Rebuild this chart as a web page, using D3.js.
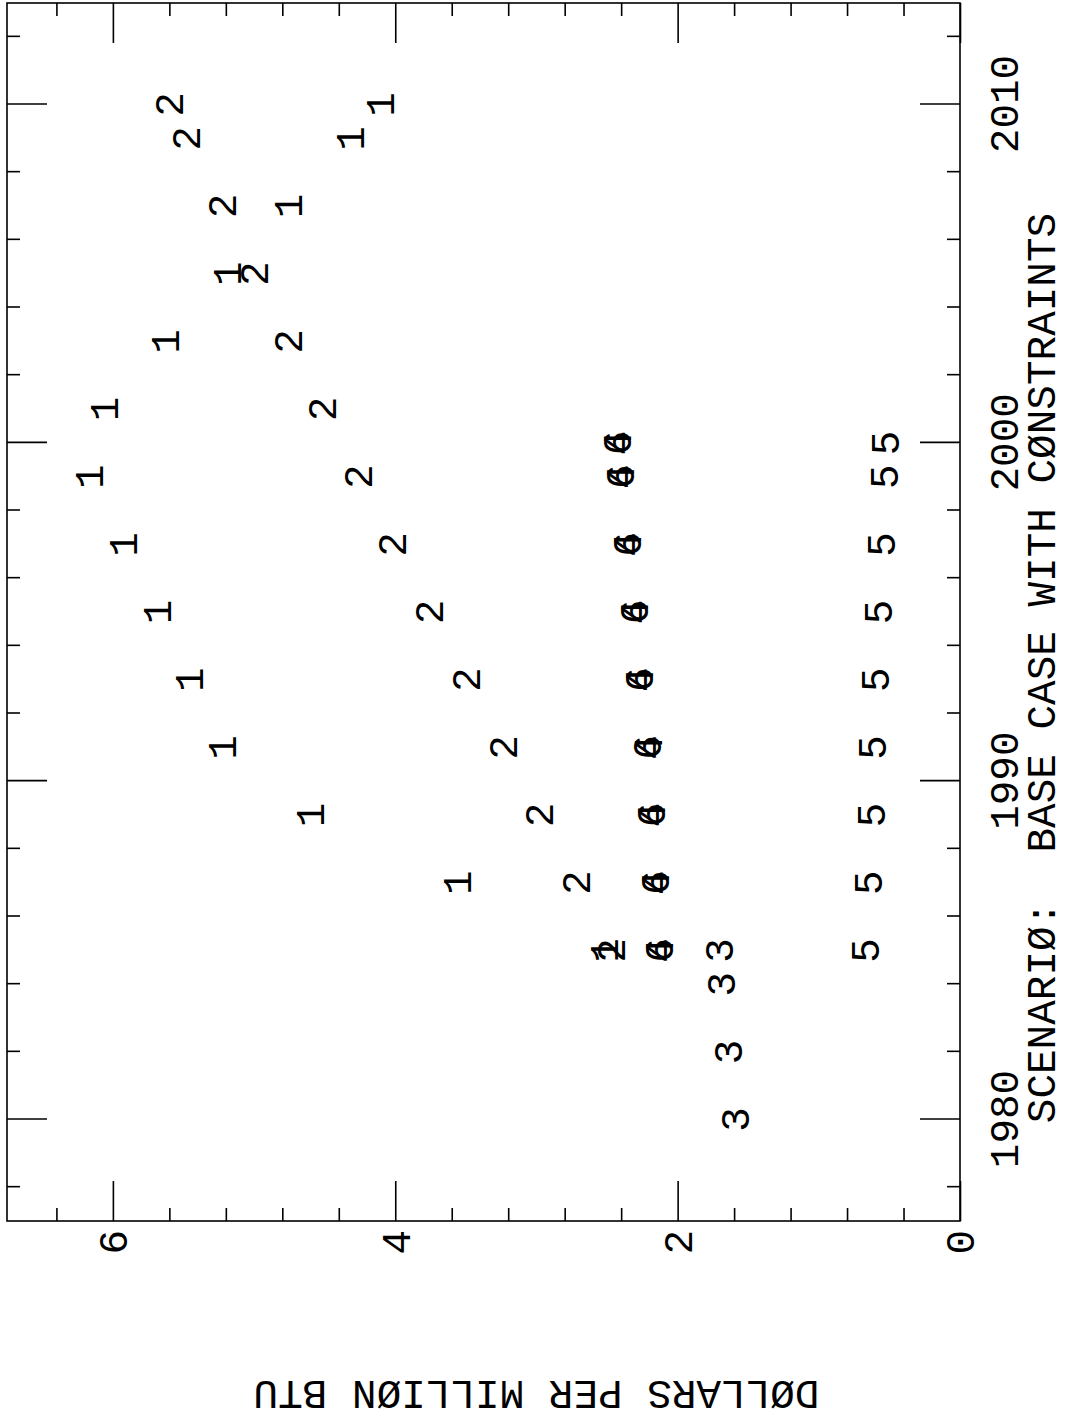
<!DOCTYPE html>
<html>
<head>
<meta charset="utf-8">
<script src="https://cdn.jsdelivr.net/npm/d3@7"></script>
<style>
  html, body { margin: 0; padding: 0; background: #ffffff; }
  svg text { font-family: "Liberation Mono", "DejaVu Sans Mono", monospace; fill: #000; }
</style>
</head>
<body>
<svg id="chart" width="1068" height="1423"></svg>
<script>
// ---- data -------------------------------------------------------------
const yearsHistory = [1980, 1982, 1984, 1985];
const yearsLong    = [1985, 1987, 1989, 1991, 1993, 1995, 1997, 1999, 2001, 2003, 2005, 2007, 2009, 2010];
const yearsShort   = [1985, 1987, 1989, 1991, 1993, 1995, 1997, 1999, 2000];

const series1 = [2.52, 3.56, 4.60, 5.23, 5.46, 5.69, 5.93, 6.17, 6.06, 5.63, 5.19, 4.76, 4.32, 4.11];
const series2 = [2.47, 2.72, 2.98, 3.24, 3.50, 3.76, 4.02, 4.26, 4.52, 4.76, 5.00, 5.23, 5.48, 5.60];
const series3 = [1.59, 1.64, 1.69, 1.71];
const series4 = [2.13, 2.16, 2.19, 2.21, 2.27, 2.31, 2.36, 2.41, 2.43];
const series5 = [0.67, 0.65, 0.63, 0.62, 0.60, 0.58, 0.56, 0.54, 0.53];
const series6 = [2.13, 2.16, 2.19, 2.22, 2.27, 2.31, 2.36, 2.41, 2.43];

const seriesSymbols = ["1", "2", "3", "4", "5", "6"];

const yearMajorTicks  = [1980, 1990, 2000, 2010];
const yearTickLabels  = ["1980", "1990", "2000", "2010"];
const yearMinorTicks  = [1978, 1982, 1984, 1986, 1988, 1992, 1994, 1996, 1998, 2002, 2004, 2006, 2008, 2012];
const priceMajorTicks = [0, 2, 4, 6];
const priceTickLabels = ["0", "2", "4", "6"];
const priceMinorTicks = [0.4, 0.8, 1.2, 1.6, 2.4, 2.8, 3.2, 3.6, 4.4, 4.8, 5.2, 5.6, 6.4];

const subtitleText  = "SCENARIØ:  BASE CASE WITH CØNSTRAINTS";
const priceAxisText = "DØLLARS PER MILLIØN BTU";

// ---- layout -----------------------------------------------------------
// The plot is laid out as an ordinary year/price chart and the whole
// group is then turned a quarter turn counter-clockwise on the page.
const frame = { left: 7, top: 3, right: 960, bottom: 1221 };
const W = frame.bottom - frame.top;   // length of the year axis
const H = frame.right - frame.left;   // length of the price axis
const FONT = 41;
const MAJOR = 40, MINOR = 13, LW = 1.6;

const svg = d3.select("#chart");
svg.append("rect").attr("width", 1068).attr("height", 1423).attr("fill", "#fff");

const g = svg.append("g")
  .attr("transform", `translate(${frame.left},${frame.bottom}) rotate(-90)`);

const x = d3.scaleLinear().domain([1977, 2013]).range([0, W]);
const y = d3.scaleLinear().domain([0, 6.75]).range([H, 0]);

function tidy(sel) {
  sel.attr("font-family", null).attr("font-size", null);
  sel.select(".domain").remove();
  sel.selectAll(".tick line").attr("stroke", "#000").attr("stroke-width", LW);
}

// year axis along the bottom edge (with labels) and the top edge
g.append("g").attr("transform", `translate(0,${H})`)
  .call(d3.axisBottom(x).tickValues(yearMajorTicks).tickSize(-MAJOR)
        .tickFormat((d, i) => yearTickLabels[i]))
  .call(tidy)
  .call(s => s.selectAll("text")
      .attr("y", 44).attr("dy", "0.34em").style("font-size", FONT + "px"));
g.append("g").attr("transform", `translate(0,${H})`)
  .call(d3.axisBottom(x).tickValues(yearMinorTicks).tickSize(-MINOR).tickFormat(""))
  .call(tidy);
g.append("g")
  .call(d3.axisTop(x).tickValues(yearMajorTicks).tickSize(-MAJOR).tickFormat(""))
  .call(tidy);
g.append("g")
  .call(d3.axisTop(x).tickValues(yearMinorTicks).tickSize(-MINOR).tickFormat(""))
  .call(tidy);

// price axis along the left edge (with labels) and the right edge
g.append("g")
  .call(d3.axisLeft(y).tickValues(priceMajorTicks).tickSize(-MAJOR)
        .tickFormat((d, i) => priceTickLabels[i]))
  .call(tidy)
  .call(s => s.selectAll("text")
      .attr("x", -9).attr("dy", "0.34em").style("font-size", FONT + "px"));
g.append("g")
  .call(d3.axisLeft(y).tickValues(priceMinorTicks).tickSize(-MINOR).tickFormat(""))
  .call(tidy);
g.append("g").attr("transform", `translate(${W},0)`)
  .call(d3.axisRight(y).tickValues(priceMajorTicks).tickSize(-MAJOR).tickFormat(""))
  .call(tidy);
g.append("g").attr("transform", `translate(${W},0)`)
  .call(d3.axisRight(y).tickValues(priceMinorTicks).tickSize(-MINOR).tickFormat(""))
  .call(tidy);

// frame
g.append("rect").attr("width", W).attr("height", H)
  .attr("fill", "none").attr("stroke", "#000").attr("stroke-width", LW);

// subtitle under the year labels
g.append("text")
  .attr("x", W / 2 - 56).attr("y", H + 81).attr("dy", "0.34em")
  .attr("text-anchor", "middle")
  .style("font-size", FONT + "px")
  .style("white-space", "pre")
  .text(subtitleText);

// price axis title
g.append("text")
  .attr("transform", `translate(-174,${y(3.0)}) rotate(-90)`)
  .attr("dy", "0.34em")
  .attr("text-anchor", "middle")
  .style("font-size", FONT + "px")
  .text(priceAxisText);

// ---- plotted symbols --------------------------------------------------
const series = [
  { sym: seriesSymbols[0], years: yearsLong,    values: series1 },
  { sym: seriesSymbols[1], years: yearsLong,    values: series2 },
  { sym: seriesSymbols[2], years: yearsHistory, values: series3 },
  { sym: seriesSymbols[3], years: yearsShort,   values: series4 },
  { sym: seriesSymbols[4], years: yearsShort,   values: series5 },
  { sym: seriesSymbols[5], years: yearsShort,   values: series6 }
];

const points = series.flatMap(s => s.values.map((v, i) => ({ sym: s.sym, year: s.years[i], value: v })));

g.append("g").selectAll("text")
  .data(points)
  .join("text")
  .attr("x", d => x(d.year))
  .attr("y", d => y(d.value))
  .attr("dy", "0.34em")
  .attr("text-anchor", "middle")
  .style("font-size", FONT + "px")
  .text(d => d.sym);
</script>
</body>
</html>
